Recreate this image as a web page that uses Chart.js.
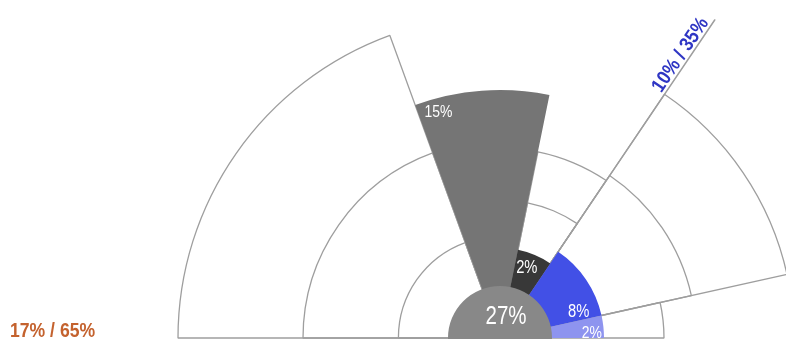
<!DOCTYPE html>
<html>
<head>
<meta charset="utf-8">
<script src="https://cdn.jsdelivr.net/npm/chart.js@4/dist/chart.umd.min.js"></script>
<style>
  html, body { margin: 0; padding: 0; background: #fff; }
  body { width: 786px; height: 339px; overflow: hidden; position: relative; }
  #wrap { position: absolute; left: 0; top: -62px; width: 1000px; height: 800px; }
</style>
</head>
<body>
<div id="wrap"><canvas id="chart" width="1000" height="800"></canvas></div>
<script>
// Sectors run clockwise from the left horizontal; widths in degrees.
const sectorNames  = ['West', 'Core', 'North', 'East', 'Low', 'Below'];
const sectorAngles = [70, 31.5, 22.5, 43.5, 12.5, 180];

// Outer envelope of each sector (radial units, 0-100).
const envelopeValues = [80.5, 0, 47.5, 73.5, 41, 0];
// Inner ring outlines inside the envelopes.
const ringValuesA = [49.25, 0, 34.5, 49, 0, 0];
const ringValuesB = [25.4, 0, 0, 0, 0, 0];

// Filled shares drawn over the envelopes.
const shareValues = [0, 62, 22.5, 26, 26, 0];
const shareLabels = ['', '15%', '2%', '8%', '2%', ''];
const shareColors = ['#ffffff', '#757575', '#383838', '#4250e6', '#8e94ef', '#ffffff'];

// Centre disc.
const totalValue = 13;
const totalLabel = '27%';

// Leader ray and the two group captions.
const leaderValue = 96;
const westCaption = '17% / 65%';
const eastCaption = '10% / 35%';

const OUTLINE = '#9e9e9e';
const LABEL_FONT = '"Liberation Sans", Arial, sans-serif';
const NARROW = 0.82;   // horizontal squeeze giving a condensed face

// Leader ray sits on the boundary between the North and East sectors.
const leaderStart = sectorAngles[0] + sectorAngles[1] + sectorAngles[2];
const leaderAngles = [leaderStart, 0.05, 360 - leaderStart - 0.05];
const leaderValues = [0, leaderValue, 0];

const lineWidthFor = w => ctx => (ctx.raw > 0 ? w : 0);

// Placement of the share labels: fraction along the arc, inset from its rim, font size.
const shareLabelPlace = [null, [0.15, 14, 17], [0.42, 15, 18], [0.86, 21, 18], [0.76, 12, 17], null];

// Draws text squeezed horizontally around its anchor point.
function narrowText(ctx, text, x, y, squeeze) {
  ctx.save();
  ctx.translate(x, y);
  ctx.scale(squeeze, 1);
  ctx.fillText(text, 0, 0);
  ctx.restore();
}

const labelPlugin = {
  id: 'sectorLabels',
  afterDatasetsDraw(chart) {
    const ctx = chart.ctx;
    const scale = chart.scales.r;
    const cx = scale.xCenter, cy = scale.yCenter;
    const shareMeta = chart.getDatasetMeta(4);
    ctx.save();
    ctx.textAlign = 'center';
    ctx.textBaseline = 'middle';
    ctx.fillStyle = '#ffffff';
    shareMeta.data.forEach((arc, i) => {
      const place = shareLabelPlace[i];
      if (!place || !shareLabels[i]) return;
      const p = arc.getProps(['startAngle', 'endAngle', 'outerRadius'], true);
      const a = p.startAngle + place[0] * (p.endAngle - p.startAngle);
      const r = p.outerRadius - place[1];
      ctx.font = place[2] + 'px ' + LABEL_FONT;
      narrowText(ctx, shareLabels[i], cx + r * Math.cos(a), cy + r * Math.sin(a), NARROW);
    });

    // Centre total.
    const disc = chart.getDatasetMeta(5).data[0];
    const dr = disc.outerRadius * 0.42;
    const da = -74 * Math.PI / 180;
    ctx.font = '25px ' + LABEL_FONT;
    narrowText(ctx, totalLabel, cx + dr * Math.cos(da), cy + dr * Math.sin(da), NARROW);

    // West caption, on the left horizontal beyond the envelope.
    ctx.font = 'bold 20px ' + LABEL_FONT;
    ctx.fillStyle = '#c4622e';
    ctx.textAlign = 'left';
    ctx.textBaseline = 'alphabetic';
    const wr = scale.getDistanceFromCenterForValue(122.5);
    narrowText(ctx, westCaption, cx - wr, cy - 1, 0.88);

    // East caption, along the leader ray.
    const leader = chart.getDatasetMeta(3).data[1];
    const la = leader.startAngle;
    const ls = scale.getDistanceFromCenterForValue(envelopeValues[3]) - 1;
    ctx.translate(cx + ls * Math.cos(la), cy + ls * Math.sin(la));
    ctx.rotate(la);
    ctx.fillStyle = '#2f36c4';
    narrowText(ctx, eastCaption, 0, -3, 0.88);
    ctx.restore();
  }
};

new Chart(document.getElementById('chart'), {
  type: 'polarArea',
  data: {
    labels: sectorNames,
    datasets: [
      {
        label: 'Envelope', data: envelopeValues, angle: sectorAngles, order: 6,
        backgroundColor: '#ffffff', borderColor: OUTLINE, borderWidth: lineWidthFor(1.3)
      },
      {
        label: 'Ring A', data: ringValuesA, angle: sectorAngles, order: 5,
        backgroundColor: 'rgba(0,0,0,0)', borderColor: OUTLINE, borderWidth: lineWidthFor(1.3)
      },
      {
        label: 'Ring B', data: ringValuesB, angle: sectorAngles, order: 5,
        backgroundColor: 'rgba(0,0,0,0)', borderColor: OUTLINE, borderWidth: lineWidthFor(1.3)
      },
      {
        label: 'Leader', data: leaderValues, angle: leaderAngles, order: 4,
        backgroundColor: OUTLINE, borderColor: OUTLINE, borderWidth: lineWidthFor(1.2)
      },
      {
        label: 'Share', data: shareValues, angle: sectorAngles, order: 2,
        backgroundColor: shareColors, borderWidth: 0
      },
      {
        label: 'Total', data: [totalValue], angle: [360], order: 1,
        backgroundColor: '#888888', borderWidth: 0
      }
    ]
  },
  options: {
    responsive: false,
    animation: false,
    layout: { padding: 0 },
    plugins: { legend: { display: false }, tooltip: { enabled: false } },
    scales: {
      r: {
        min: 0, max: 100, startAngle: 270,
        grid: { display: false },
        angleLines: { display: false },
        ticks: { display: false },
        pointLabels: { display: false }
      }
    }
  },
  plugins: [labelPlugin]
});
</script>
</body>
</html>
